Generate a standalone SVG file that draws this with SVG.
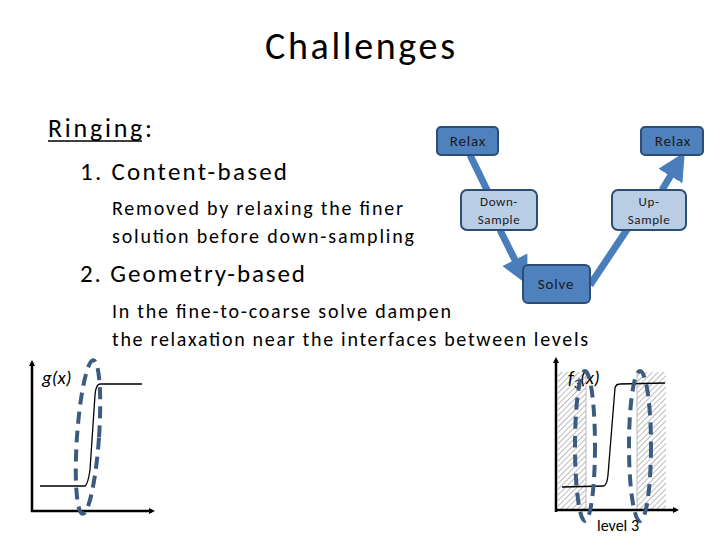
<svg xmlns="http://www.w3.org/2000/svg" width="720" height="540" viewBox="0 0 720 540">
<defs>
<style>
text{font-family:Calibri,Carlito,"Liberation Sans",sans-serif;fill:#000}
.dk{fill:#4f81bd;stroke:#2c4d75;stroke-width:2}
.lt{fill:#b9cde5;stroke:#2c4d75;stroke-width:2}
.bl{font-size:15px;text-anchor:middle;fill:#1a1a1a;letter-spacing:0.8px}
.sm{font-size:13px;text-anchor:middle;fill:#1a1a1a;letter-spacing:0.6px}
.fl{stroke:#4a7ebb;stroke-width:7;fill:none}
.ax{stroke:#000;stroke-width:2.5;fill:none}
.cv{stroke:#000;stroke-width:1.3;fill:none}
.el{stroke:#3d5a80;stroke-width:4;stroke-dasharray:12,7;fill:none}
</style>
<marker id="ah" markerWidth="6" markerHeight="6" refX="3" refY="3" orient="auto" markerUnits="userSpaceOnUse" viewBox="0 0 6 6"><path d="M0,0L6,3L0,6z" fill="#000"/></marker>
<marker id="bh" markerWidth="4" markerHeight="4" refX="1" refY="2" orient="auto" viewBox="0 0 4 4"><path d="M0,0L4,2L0,4z" fill="#4a7ebb"/></marker>
<pattern id="hatch" width="4" height="4" patternUnits="userSpaceOnUse" patternTransform="rotate(45)"><rect width="4" height="4" fill="#fff"/><line x1="0" y1="0" x2="0" y2="4" stroke="#777" stroke-width="1"/></pattern>
</defs>
<text x="265" y="59" font-size="38" textLength="190" lengthAdjust="spacing">Challenges</text>
<text x="48" y="137" font-size="26" textLength="104" lengthAdjust="spacing">Ringing:</text>
<line x1="48" y1="141" x2="142" y2="141" stroke="#000" stroke-width="1.5"/>
<text x="80" y="180" font-size="25" textLength="207" lengthAdjust="spacing">1.   Content-based</text>
<text x="112" y="215" font-size="20" textLength="291" lengthAdjust="spacing">Removed by relaxing the finer</text>
<text x="112" y="243" font-size="20" textLength="302" lengthAdjust="spacing">solution before down-sampling</text>
<text x="80" y="282" font-size="25" textLength="225" lengthAdjust="spacing">2.  Geometry-based</text>
<text x="112" y="318" font-size="20" textLength="339" lengthAdjust="spacing">In the fine-to-coarse solve dampen</text>
<text x="112" y="346" font-size="20" textLength="476" lengthAdjust="spacing">the relaxation near the interfaces between levels</text>
<g id="connectors">
<line class="fl" x1="470" y1="155" x2="488" y2="192"/>
<line class="fl" x1="500" y1="230" x2="518" y2="266" marker-end="url(#bh)"/>
<line class="fl" x1="590" y1="285" x2="628" y2="228"/>
<line class="fl" x1="662" y1="190" x2="674" y2="170" marker-end="url(#bh)"/>
</g>
<g id="relax1"><rect class="dk" x="437" y="127" width="61" height="28" rx="4"/><text class="bl" x="468" y="146">Relax</text></g>
<g id="relax2"><rect class="dk" x="641" y="127" width="62" height="28" rx="4"/><text class="bl" x="673" y="146">Relax</text></g>
<g id="down"><rect class="lt" x="461" y="190" width="76" height="40" rx="6"/><text class="sm" x="499" y="206">Down-</text><text class="sm" x="499" y="224">Sample</text></g>
<g id="up"><rect class="lt" x="612" y="190" width="74" height="40" rx="6"/><text class="sm" x="649" y="206">Up-</text><text class="sm" x="649" y="224">Sample</text></g>
<g id="solve"><rect class="dk" x="523" y="265" width="67" height="38" rx="5"/><text class="bl" x="556" y="289">Solve</text></g>
<g id="plot-g">
<line class="ax" x1="32" y1="512" x2="32" y2="363" marker-end="url(#ah)"/>
<line class="ax" x1="31" y1="511" x2="152" y2="511" marker-end="url(#ah)"/>
<path class="cv" d="M40,486 L85,486 Q88,484 90,470 L95,395 Q96,384 100,384 L142,384"/>
<text x="42" y="384" font-size="19" font-style="italic" font-family="Liberation Serif,serif">g(x)</text>
<ellipse class="el" cx="88" cy="437" rx="11" ry="77" transform="rotate(4 88 437)"/>
</g>
<g id="plot-f">
<rect x="558" y="372" width="28" height="138" fill="url(#hatch)"/>
<rect x="637" y="372" width="29" height="138" fill="url(#hatch)"/>
<line x1="586" y1="372" x2="586" y2="510" stroke="#aaa" stroke-width="0.8"/>
<line x1="637" y1="372" x2="637" y2="510" stroke="#aaa" stroke-width="0.8"/>
<line class="ax" x1="556" y1="512" x2="556" y2="360" marker-end="url(#ah)"/>
<line class="ax" x1="555" y1="510" x2="676" y2="510" marker-end="url(#ah)"/>
<path class="cv" d="M562,487 L604,486 Q607,485 608,475 L615,388 Q616,384 620,384 L665,383"/>
<text x="568" y="384" font-size="19" font-style="italic" font-family="Liberation Serif,serif">f<tspan font-size="12" dy="4">3</tspan><tspan dy="-4">(x)</tspan></text>
<ellipse class="el" cx="585" cy="446" rx="10" ry="75"/>
<ellipse class="el" cx="640" cy="446" rx="11" ry="75"/>
<text x="618" y="531" font-size="16" text-anchor="middle">level 3</text>
</g>
</svg>
